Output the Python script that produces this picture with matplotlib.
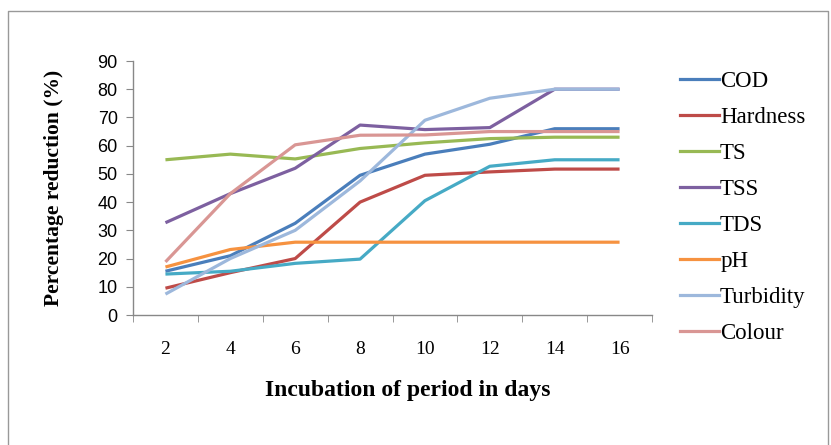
import matplotlib
matplotlib.use("Agg")
import matplotlib.pyplot as plt
from matplotlib.lines import Line2D

# Incubation period (days) and % reduction for each parameter
days = [2, 4, 6, 8, 10, 12, 14, 16]
cod = [15.5, 21, 32.5, 49.5, 57, 60.5, 66, 66]
hardness = [9.5, 15, 20, 40, 49.5, 50.7, 51.7, 51.7]
ts = [55, 57, 55.3, 59, 61, 62.5, 63, 63]
tss = [32.7, 43, 52, 67.3, 65.7, 66.4, 80, 80]
tds = [14.5, 15.5, 18.3, 19.8, 40.5, 52.7, 55, 55]
ph = [17, 23.2, 25.8, 25.8, 25.8, 25.8, 25.8, 25.8]
turbidity = [7.4, 20, 30, 47.5, 69, 76.8, 80, 80]
colour = [18.8, 43, 60.3, 63.7, 63.8, 65, 65, 65]

names = ['COD', 'Hardness', 'TS', 'TSS', 'TDS', 'pH', 'Turbidity', 'Colour']
series = [cod, hardness, ts, tss, tds, ph, turbidity, colour]
colors = ['#4A7EBB', '#BE4B48', '#98B954', '#7D60A0', '#46AAC5',
          '#F69240', '#9DB8DC', '#D99694']

fig = plt.figure(figsize=(8.31, 4.45), dpi=100)
ax = fig.add_axes([133/831, 1 - 315/445, (652 - 133)/831, (315 - 61)/445])

x = list(range(1, len(days) + 1))
for vals, c, n in zip(series, colors, names):
    ax.plot(x, vals, color=c, lw=2.3, label=n, solid_capstyle='butt')

ax.set_xlim(0.5, len(days) + 0.5)
ax.set_ylim(0, 90)
ax.set_yticks(range(0, 91, 10))
ax.set_xticks(x)
ax.set_xticklabels([str(d) for d in days], family='Liberation Serif', fontsize=14)
ax.set_xticks([i + 0.5 for i in range(0, len(days) + 1)], minor=True)
ax.tick_params(axis='x', which='major', length=0, pad=19)
ax.tick_params(axis='x', which='minor', length=5, color='#888888', direction='out')
ax.tick_params(axis='y', length=5, color='#888888', pad=6)
for lab in ax.get_yticklabels():
    lab.set_family('Liberation Sans')
    lab.set_fontsize(13)

for s in ['top', 'right']:
    ax.spines[s].set_visible(False)
for s in ['left', 'bottom']:
    ax.spines[s].set_color('#888888')
    ax.spines[s].set_linewidth(1)

ax.set_xlabel('Incubation of period in days', family='Liberation Serif',
              fontweight='bold', fontsize=17)
ax.xaxis.set_label_coords(0.53, -0.255)
ax.set_ylabel('Percentage reduction (%)', family='Liberation Serif',
              fontweight='bold', fontsize=15.5, labelpad=24)

handles = [Line2D([0], [0], color=c, lw=2.3) for c in colors]
fig.legend(handles, names, loc='upper left', bbox_to_anchor=(680/831, 1 - 71/445),
           frameon=False, prop={'family': 'Liberation Serif', 'size': 16.5},
           handlelength=1.7, handletextpad=0.05, labelspacing=0.655,
           borderaxespad=0, borderpad=0)

# outer chart border
fig.add_artist(Line2D([8/831, 8/831, 828/831, 828/831],
                      [0, 1 - 11/445, 1 - 11/445, 0],
                      color='#999999', lw=1, transform=fig.transFigure))

fig.savefig('out.png', dpi=100)
